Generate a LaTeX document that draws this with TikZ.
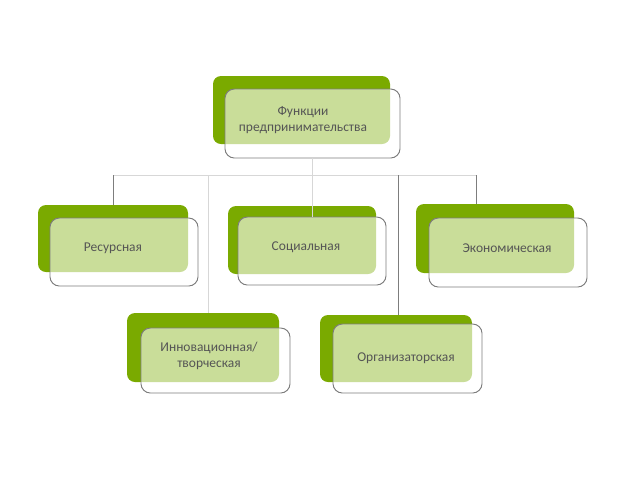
\documentclass[tikz,border=0pt]{standalone}
\usepackage{fontspec}
\setmainfont{Carlito}
\definecolor{leafgreen}{RGB}{122,170,0}
\definecolor{edgegray}{RGB}{125,125,125}
\definecolor{palegray}{RGB}{215,215,215}
\definecolor{inkgray}{RGB}{85,85,85}
\tikzset{
  back/.style={fill=leafgreen, rounded corners=6pt, inner sep=0pt, outer sep=0pt},
  card/.style={draw=edgegray, line width=0.7pt, fill=white, fill opacity=0.6,
    rounded corners=7pt, inner sep=0pt, outer sep=0pt},
  boxtext/.style={font=\fontsize{10.1}{12.5}\selectfont, text=inkgray, align=center},
  link/.style={draw=edgegray, line width=0.6pt},
  faint/.style={draw=palegray, line width=0.6pt}
}
\begin{document}
\begin{tikzpicture}[x=0.75pt,y=-0.75pt]
\useasboundingbox (0,0) rectangle (640,480);
% top
\node[back, minimum width=132.75pt, minimum height=51pt] (topback) at (301.5,110) {};
\node[card, minimum width=131.25pt, minimum height=51.75pt] (topcard) at (312.5,123.5) {};
\node[boxtext] (toptext) at (303,120) {Функции\\предпринимательства};
% first row
\node[back, minimum width=112.5pt, minimum height=50.25pt] (resback) at (113,238.5) {};
\node[card, minimum width=111pt, minimum height=51pt] (rescard) at (124,252) {};
\node[boxtext] (restext) at (113,248) {Ресурсная};
\node[back, minimum width=111pt, minimum height=51pt] (socback) at (302,240) {};
\node[card, minimum width=111pt, minimum height=51pt] (soccard) at (312,251) {};
\node[boxtext] (soctext) at (306,247) {Социальная};
\node[back, minimum width=118.5pt, minimum height=51.75pt] (ecoback) at (495,238.5) {};
\node[card, minimum width=118.5pt, minimum height=51.75pt] (ecocard) at (508,252.5) {};
\node[boxtext] (ecotext) at (507,248) {Экономическая};
% second row
\node[back, minimum width=114pt, minimum height=51.75pt] (innback) at (203,347.5) {};
\node[card, minimum width=111.75pt, minimum height=48.75pt] (inncard) at (215.5,360.5) {};
\node[boxtext] (inntext) at (209,356) {Инновационная/\\творческая};
\node[back, minimum width=114pt, minimum height=50.25pt] (orgback) at (396,348.5) {};
\node[card, minimum width=111.75pt, minimum height=51.75pt] (orgcard) at (407.5,358.5) {};
\node[boxtext] (orgtext) at (406,358) {Организаторская};
% connectors
\coordinate (bus) at (0,175);
\coordinate (j2) at (208,175);
\coordinate (j4) at (398,175);
\coordinate (j5) at (476,175);
\draw[faint] (topcard.south) -- (topcard.south |- bus);
\draw[faint] (resback.north |- bus) -- (j5);
\draw[link] (resback.north |- bus) -- (resback.north);
\draw[faint] (j2) -- (j2 |- innback.north);
\draw[faint] (soccard.north |- bus) -- (soccard.north);
\draw[link] (j4) -- (j4 |- orgback.north);
\draw[link] (j5) -- (j5 |- ecoback.north);
\end{tikzpicture}
\end{document}
